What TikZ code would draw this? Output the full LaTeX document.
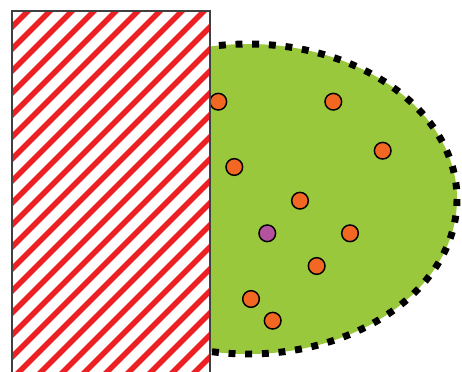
\documentclass[tikz,border=0pt]{standalone}
\definecolor{leafgreen}{RGB}{154,200,60}
\definecolor{dotorange}{RGB}{242,104,34}
\definecolor{dotpurple}{RGB}{181,82,160}
\definecolor{stripered}{RGB}{237,32,36}
\tikzset{
  particle/.style={circle, draw=black, line width=1.1pt, minimum size=12.5pt, inner sep=0pt, fill=dotorange},
  wallstripe/.style={stripered, line width=4pt},
}
\begin{document}
\begin{tikzpicture}[x=0.75pt,y=-0.75pt]
    \useasboundingbox (0,0) rectangle (462,372);
    % centre and radii of the green region
    \def\cx{248}
    \def\cy{199}

    % green region with dotted rim
    \fill[leafgreen] (\cx,\cy) ellipse [x radius=209, y radius=155];
    \draw[black, line width=5.2pt, dash pattern=on 5.2pt off 7.3pt] (\cx,\cy) ellipse [x radius=209, y radius=155];

    % orange particles
    \foreach \name/\px/\py in {p1/218.3/101.7, p2/333.3/101.7, p3/382.7/150.7, p4/234.3/167,
                              p5/300/200.7, p6/350/233.3, p7/316.7/266, p8/251/299, p9/272.7/320.7}
        \node[particle] (\name) at (\px,\py) {};
    % purple particle
    \node[particle, fill=dotpurple] (q1) at (267.3,233.3) {};

    % striped wall
    \begin{scope}
        \clip (12,11) rectangle (210,380);
        \fill[white] (12,11) rectangle (210,380);
        \foreach \k in {0,...,30}
            \draw[wallstripe] (\k*22-361,400) -- ++(420,-420);
    \end{scope}
    \draw[black!75, line width=0.9pt] (12,380) -- (12,11) -- (210,11) -- (210,380);
\end{tikzpicture}
\end{document}
